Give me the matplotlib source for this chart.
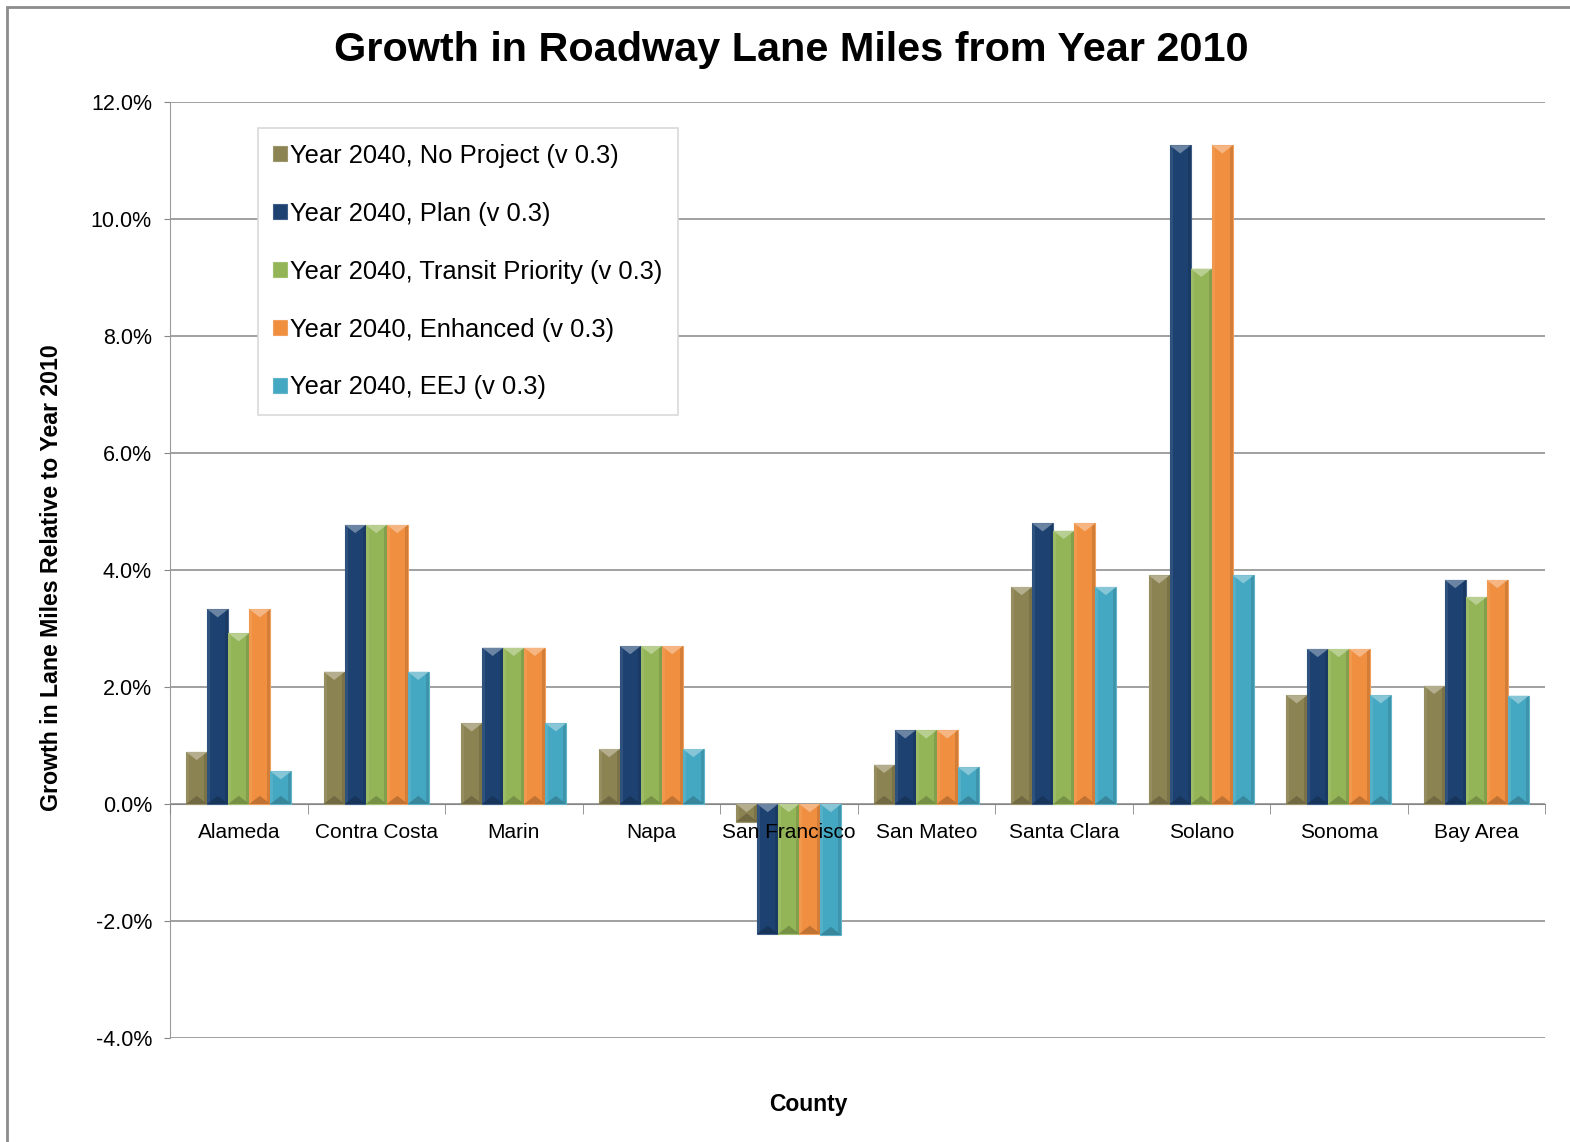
import numpy as np
import matplotlib
matplotlib.use("Agg")
import matplotlib.pyplot as plt
from matplotlib.patches import Polygon, Rectangle
from matplotlib.ticker import FuncFormatter, MultipleLocator, FixedLocator
import matplotlib.colors as mcolors

plt.rcParams['font.family'] = ['Liberation Sans', 'DejaVu Sans']

counties = ['Alameda', 'Contra Costa', 'Marin', 'Napa', 'San Francisco',
            'San Mateo', 'Santa Clara', 'Solano', 'Sonoma', 'Bay Area']

series_names = ['Year 2040, No Project (v 0.3)', 'Year 2040, Plan (v 0.3)',
                'Year 2040, Transit Priority (v 0.3)', 'Year 2040, Enhanced (v 0.3)',
                'Year 2040, EEJ (v 0.3)']

# growth in percent
no_project = [0.89, 2.26, 1.38, 0.94, -0.30, 0.67, 3.71, 3.91, 1.86, 2.02]
plan = [3.33, 4.77, 2.67, 2.70, -2.22, 1.26, 4.80, 11.26, 2.65, 3.83]
transit_priority = [2.92, 4.77, 2.67, 2.70, -2.22, 1.26, 4.67, 9.15, 2.65, 3.54]
enhanced = [3.33, 4.77, 2.67, 2.70, -2.22, 1.26, 4.80, 11.26, 2.65, 3.83]
eej = [0.56, 2.26, 1.38, 0.94, -2.24, 0.63, 3.71, 3.91, 1.86, 1.85]

colors = ['#8C8352', '#1D4272', '#93B557', '#F08F40', '#45A8C2']

fig = plt.figure(figsize=(15.7, 11.42), dpi=100)
ax = fig.add_axes([170/1570, 1-1038/1142, 1375/1570, 936/1142])

x = np.arange(len(counties))
bw = 0.153
depth = 0.14  # bevel depth in % units
all_series = [no_project, plan, transit_priority, enhanced, eej]


def shade(c, f):
    r, g, b = mcolors.to_rgb(c)
    if f > 0:
        return (r + (1-r)*f, g + (1-g)*f, b + (1-b)*f)
    return (r*(1+f), g*(1+f), b*(1+f))


for i, (vals, col, name) in enumerate(zip(all_series, colors, series_names)):
    xs = x + (i - 2) * bw
    ax.bar(xs, vals, width=bw, color=col, edgecolor=shade(col, 0.15),
           linewidth=0.8, label=name, zorder=3)
    for xc, v in zip(xs, vals):
        top, bot = max(v, 0), min(v, 0)
        l, r = xc - bw/2, xc + bw/2
        sw = bw * 0.15
        ax.add_patch(Rectangle((l, bot), sw, top-bot, color=shade(col, 0.08), lw=0, zorder=4))
        ax.add_patch(Rectangle((r-sw, bot), sw, top-bot, color=shade(col, -0.12), lw=0, zorder=4))
        ax.add_patch(Polygon([(l, top), (r, top), (xc, top-depth)],
                             color=shade(col, 0.35), lw=0, zorder=5))
        ax.add_patch(Polygon([(l, bot), (r, bot), (xc, bot+depth)],
                             color=shade(col, -0.2), lw=0, zorder=5))

ax.set_xlim(-0.5, len(counties) - 0.5)
ax.set_ylim(-4, 12)
ax.yaxis.set_major_locator(MultipleLocator(2))
ax.yaxis.set_major_formatter(FuncFormatter(lambda v, p: f'{v:.1f}%'))
ax.grid(axis='y', color='#868686', linewidth=1.1, zorder=0)
ax.set_axisbelow(True)

ax.set_xticks(x)
ax.set_xticklabels(counties)
ax.xaxis.set_minor_locator(FixedLocator(np.arange(-0.5, len(counties), 1.0)))
ax.tick_params(axis='x', which='major', length=0, pad=14, labelsize=15)
ax.tick_params(axis='x', which='minor', length=7, color='#868686', direction='out')
ax.tick_params(axis='y', length=4, color='#868686', pad=9, labelsize=15.5)
ax.xaxis.set_zorder(8)  # county names drawn over the bars

for s in ['top', 'right']:
    ax.spines[s].set_visible(False)
ax.spines['bottom'].set_position(('data', 0))
ax.spines['bottom'].set_color('#868686')
ax.spines['left'].set_color('#9a9a9a')
ax.spines['bottom'].set_zorder(2)

leg = ax.legend(loc='upper left', bbox_to_anchor=(0.064, 0.972), borderaxespad=0,
                fontsize=18.4, frameon=True, fancybox=False, framealpha=1,
                edgecolor='#d9d9d9', handlelength=0.55, handleheight=0.55,
                handletextpad=0.1, labelspacing=1.33, borderpad=0.6)
leg.get_frame().set_linewidth(1.2)
leg.set_zorder(10)

fig.text(791/1570, 1-50/1142, 'Growth in Roadway Lane Miles from Year 2010',
         ha='center', va='center', fontsize=29.8, fontweight='bold')
fig.text(52/1570, 1-578/1142, 'Growth in Lane Miles Relative to Year 2010',
         rotation=90, ha='center', va='center', fontsize=16.7, fontweight='bold')
fig.text(808/1570, 1-1105/1142, 'County', ha='center', va='center',
         fontsize=16.5, fontweight='bold')

fig.patches.append(Rectangle((7/1570, -0.1), 2, 1.1 - 7/1142, transform=fig.transFigure,
                             fill=False, edgecolor='#8c8c8c', linewidth=2))

fig.savefig('out.png', dpi=100)
